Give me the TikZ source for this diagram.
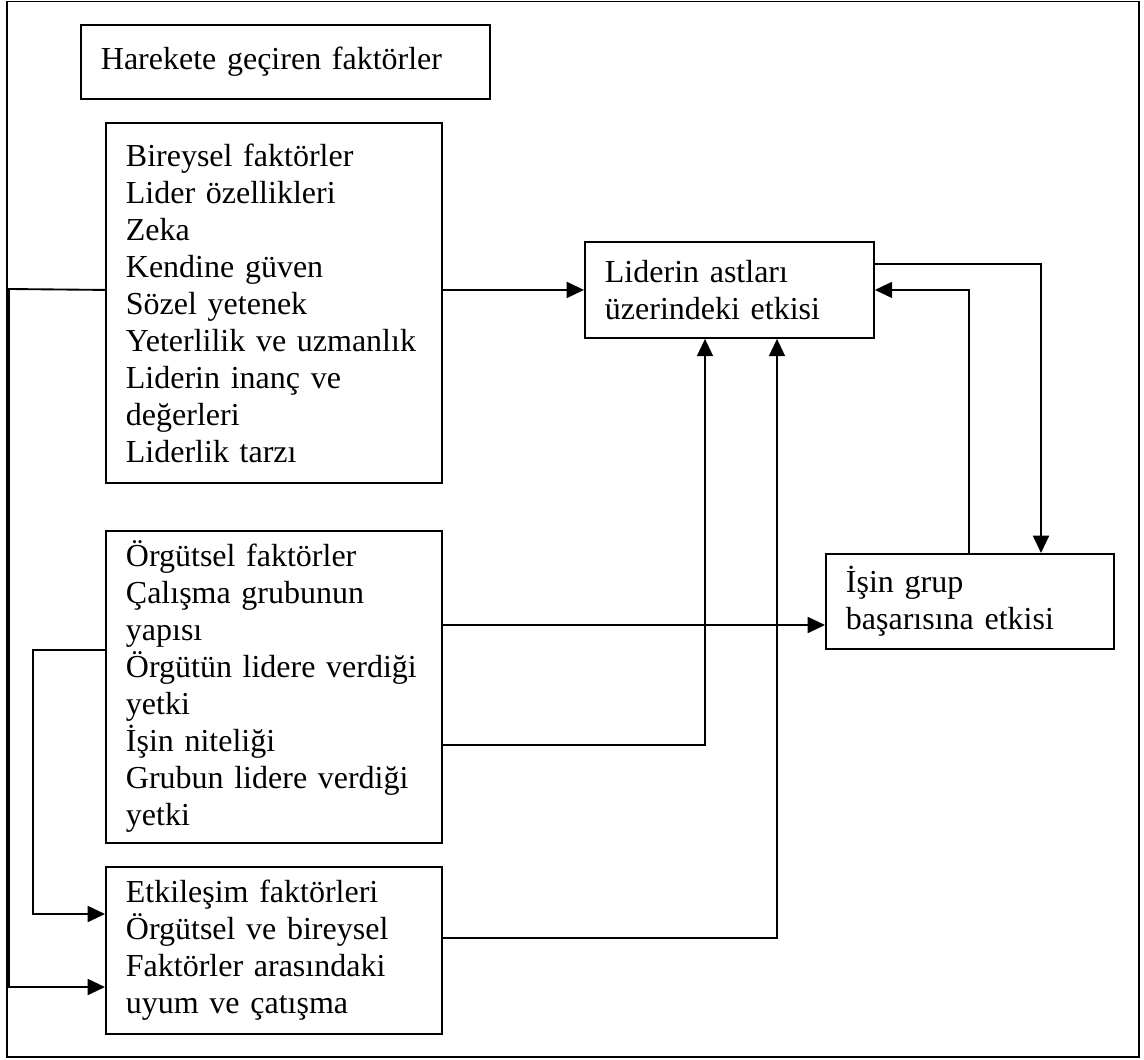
\documentclass[tikz,border=0pt]{standalone}
\usepackage{fontspec}
\setmainfont{Liberation Serif}
\usetikzlibrary{arrows.meta}
\begin{document}
\begin{tikzpicture}[x=0.75pt,y=-0.75pt,
  box/.style={draw, line width=1.4pt, anchor=north west, inner xsep=15pt, inner ysep=0pt,
    align=left, font=\fontsize{24}{27.75}\selectfont},
  link/.style={line width=1.4pt},
  arr/.style={link, -{Triangle[length=13pt,width=12pt]}}]
\useasboundingbox (0,0) rectangle (1144,1059);
% outer frame
\draw[line width=1.4pt] (7,1.5) rectangle (1139,1057);

% boxes
\node[box, minimum height=55.5pt, text width=276.75pt] (har) at (80,24)
  {Harekete geçiren faktörler};
\node[box, minimum height=270pt, text width=222pt] (bir) at (105,122)
  {Bireysel faktörler\\Lider özellikleri\\Zeka\\Kendine güven\\Sözel yetenek\\Yeterlilik ve uzmanlık\\Liderin inanç ve\\değerleri\\Liderlik tarzı};
\node[box, minimum height=72pt, text width=186.75pt] (lid) at (584,241)
  {Liderin astları\\üzerindeki etkisi};
\node[box, minimum height=234pt, text width=222pt] (org) at (105,530)
  {Örgütsel faktörler\\Çalışma grubunun\\yapısı\\Örgütün lidere verdiği\\yetki\\İşin niteliği\\Grubun lidere verdiği\\yetki};
\node[box, minimum height=71.25pt, text width=186pt] (isin) at (825,553)
  {İşin grup\\başarısına etkisi};
\node[box, minimum height=125.25pt, text width=222pt] (etk) at (105,866)
  {Etkileşim faktörleri\\Örgütsel ve bireysel\\Faktörler arasındaki\\uyum ve çatışma};

% bend points of the connectors
\coordinate (outerleft) at (9,289);
\coordinate (innerleft) at (33,650);

% connectors
\draw[arr] (bir.east |- lid.west) -- (lid.west);
\draw[arr] (bir.west |- lid.west) -- (outerleft) |- (etk.west |- 0,987);
\draw[arr] (org.west |- innerleft) -- (innerleft) |- (etk.west |- 0,914);
\draw[arr] (org.east |- 0,625) -- (isin.west |- 0,625);
\draw[arr] (org.east |- 0,745) -| (lid.south -| 705,0);
\draw[arr] (etk.east |- 0,938) -| (lid.south -| 777,0);
\draw[arr] (lid.east |- 0,264) -| (isin.north -| 1041,0);
\draw[arr] (isin.north -| 969,0) |- (lid.east);
\end{tikzpicture}
\end{document}
